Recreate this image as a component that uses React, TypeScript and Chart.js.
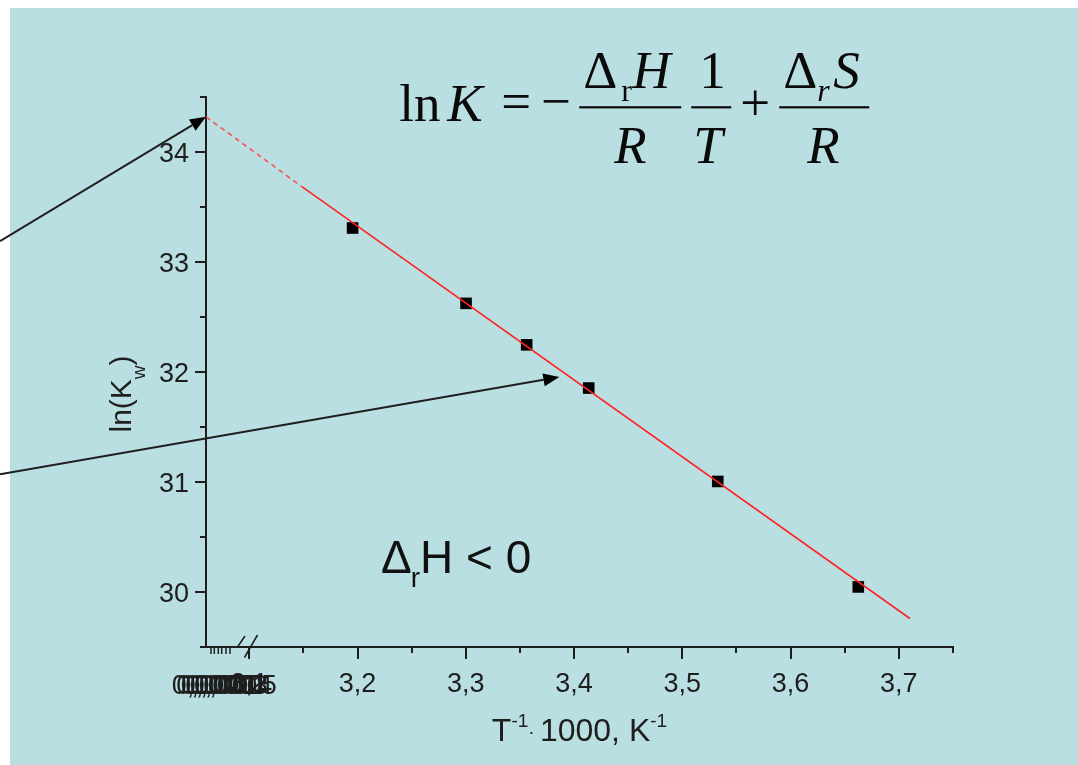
import { useEffect, useRef } from 'react';
import { Chart, registerables } from 'chart.js';
Chart.register(...registerables);

// ---- data ----
const invT = [3.1954, 3.3002, 3.3562, 3.4135, 3.5327, 3.6625]; // 1000/T, K^-1
const lnKw = [33.309, 32.624, 32.247, 31.854, 31.005, 30.046];
const fitX = [3.06, 3.1489, 3.7102];
const fitY = [34.32, 33.683, 29.759];
const xMajorTicks = [3.1, 3.2, 3.3, 3.4, 3.5, 3.6, 3.7];
const xTickLabels = ['3,1', '3,2', '3,3', '3,4', '3,5', '3,6', '3,7'];
const xMinorTicks = [3.15, 3.25, 3.35, 3.45, 3.55, 3.65, 3.75];
const yMajorTicks = [30, 31, 32, 33, 34];
const yMinorTicks = [29.5, 30.5, 31.5, 32.5, 33.5, 34.5];
const breakLabels = ['0,0000', '0,0001', '0,0002', '0,0003', '0,0004', '0,0005'];
const arrowTips = [[3.06, 34.32], [3.3864, 31.954]];
const arrowTailY = [33.19, 31.07];
const noteAnchor = [3.2216, 30.17];
const eqAnchor = [3.2385, 34.28];

const W = 1078;
const H = 765;
const INK = '#1e1e1e';
const SANS = '"Liberation Sans", Arial, sans-serif';
const SERIF = '"Liberation Serif", "Times New Roman", serif';

function drawArrow(ctx: CanvasRenderingContext2D, x1: number, y1: number, x2: number, y2: number) {
  const ang = Math.atan2(y2 - y1, x2 - x1);
  const len = 16;
  const half = 6.5;
  const bx = x2 - len * Math.cos(ang);
  const by = y2 - len * Math.sin(ang);
  ctx.strokeStyle = INK;
  ctx.lineWidth = 2;
  ctx.beginPath();
  ctx.moveTo(x1, y1);
  ctx.lineTo(bx, by);
  ctx.stroke();
  ctx.fillStyle = '#000';
  ctx.beginPath();
  ctx.moveTo(x2, y2);
  ctx.lineTo(bx + half * Math.sin(ang), by - half * Math.cos(ang));
  ctx.lineTo(bx - half * Math.sin(ang), by + half * Math.cos(ang));
  ctx.closePath();
  ctx.fill();
}

const decor = {
  id: 'decor',
  beforeDraw(chart: any) {
    const ctx = chart.ctx as CanvasRenderingContext2D;
    ctx.save();
    ctx.fillStyle = '#ffffff';
    ctx.fillRect(0, 0, W, H);
    ctx.fillStyle = '#badfe2';
    ctx.fillRect(10, 8, W - 10, H - 8);
    ctx.restore();
  },
  afterDraw(chart: any) {
    const ctx = chart.ctx as CanvasRenderingContext2D;
    const xs = chart.scales.x;
    const ys = chart.scales.y;
    const area = chart.chartArea;
    ctx.save();
    ctx.strokeStyle = INK;
    ctx.lineWidth = 2;
    // minor ticks
    xMinorTicks.forEach((v) => {
      const px = Math.round(xs.getPixelForValue(v));
      ctx.beginPath();
      ctx.moveTo(px, area.bottom);
      ctx.lineTo(px, area.bottom + 6);
      ctx.stroke();
    });
    yMinorTicks.forEach((v) => {
      const py = Math.round(ys.getPixelForValue(v));
      ctx.beginPath();
      ctx.moveTo(area.left, py);
      ctx.lineTo(area.left - 6, py);
      ctx.stroke();
    });
    // axis break region
    ctx.lineWidth = 1.5;
    const breakOffsets = [5, 8.3, 12.3, 15.7, 20, 24];
    breakOffsets.forEach((o) => {
      ctx.beginPath();
      ctx.moveTo(area.left + o, area.bottom);
      ctx.lineTo(area.left + o, area.bottom + 7);
      ctx.stroke();
    });
    ctx.beginPath();
    ctx.moveTo(area.left + 31.5, area.bottom);
    ctx.lineTo(area.left + 39, area.bottom - 11);
    ctx.moveTo(area.left + 38.5, area.bottom + 10.5);
    ctx.lineTo(area.left + 51.5, area.bottom - 12);
    ctx.stroke();
    ctx.fillStyle = INK;
    ctx.font = `27px ${SANS}`;
    ctx.textAlign = 'center';
    ctx.textBaseline = 'alphabetic';
    breakLabels.forEach((t, i) => {
      ctx.fillText(t, area.left + 7 + i * 4.5, area.bottom + 47);
    });

    // x title: T^-1 · 1000, K^-1
    const xt = [
      { t: 'T', s: 32, dy: 0 },
      { t: '-1', s: 19, dy: -14 },
      { t: '\u00B7 ', s: 19, dy: -3 },
      { t: '1000, K', s: 32, dy: 0 },
      { t: '-1', s: 19, dy: -14 },
    ];
    let total = 0;
    xt.forEach((p) => {
      ctx.font = `${p.s}px ${SANS}`;
      total += ctx.measureText(p.t).width;
    });
    let cx = (area.left + area.right) / 2 - total / 2;
    const xBase = 741;
    ctx.textAlign = 'left';
    ctx.textBaseline = 'alphabetic';
    xt.forEach((p) => {
      ctx.font = `${p.s}px ${SANS}`;
      ctx.fillText(p.t, cx, xBase + p.dy);
      cx += ctx.measureText(p.t).width;
    });

    // y title: ln(K_w)
    ctx.save();
    ctx.translate(131, 394);
    ctx.rotate(-Math.PI / 2);
    const yt = [
      { t: 'ln(K', s: 30, dy: 0 },
      { t: 'w', s: 19, dy: 14 },
      { t: ')', s: 30, dy: 0 },
    ];
    let ytot = 0;
    yt.forEach((p) => {
      ctx.font = `${p.s}px ${SANS}`;
      ytot += ctx.measureText(p.t).width;
    });
    let yx = -ytot / 2;
    yt.forEach((p) => {
      ctx.font = `${p.s}px ${SANS}`;
      ctx.fillText(p.t, yx, p.dy);
      yx += ctx.measureText(p.t).width;
    });
    ctx.restore();

    // annotation ΔrH < 0
    const nx = xs.getPixelForValue(noteAnchor[0]);
    const ny = ys.getPixelForValue(noteAnchor[1]);
    ctx.fillStyle = '#111';
    ctx.font = `46px ${SANS}`;
    ctx.fillText('\u0394', nx, ny);
    let nw = ctx.measureText('\u0394').width;
    ctx.font = `28px ${SANS}`;
    ctx.fillText('r', nx + nw - 1, ny + 14);
    nw += ctx.measureText('r').width - 1;
    ctx.font = `46px ${SANS}`;
    ctx.fillText('H < 0', nx + nw, ny);

    // equation
    const ex = xs.getPixelForValue(eqAnchor[0]);
    const ey = ys.getPixelForValue(eqAnchor[1]);
    const eq = [
      { t: 'ln', dx: 0, dy: 0, s: 53, it: false },
      { t: 'K', dx: 48, dy: 0, s: 53, it: true },
      { t: '=', dx: 102, dy: -2, s: 53, it: false },
      { t: '\u2212', dx: 142, dy: -2, s: 53, it: false },
      { t: '\u0394', dx: 184, dy: -33, s: 53, it: false },
      { t: 'r', dx: 222, dy: -20, s: 32, it: false },
      { t: 'H', dx: 233, dy: -33, s: 53, it: true },
      { t: 'R', dx: 215, dy: 42, s: 53, it: true },
      { t: '1', dx: 300, dy: -33, s: 53, it: false },
      { t: 'T', dx: 294, dy: 42, s: 53, it: true },
      { t: '+', dx: 341, dy: -1, s: 53, it: false },
      { t: '\u0394', dx: 384, dy: -33, s: 53, it: false },
      { t: 'r', dx: 418, dy: -20, s: 32, it: true },
      { t: 'S', dx: 434, dy: -33, s: 53, it: true },
      { t: 'R', dx: 408, dy: 42, s: 53, it: true },
    ];
    ctx.fillStyle = '#0a0a0a';
    eq.forEach((p) => {
      ctx.font = `${p.it ? 'italic ' : ''}${p.s}px ${SERIF}`;
      ctx.fillText(p.t, ex + p.dx, ey + p.dy);
    });
    ctx.fillRect(ex + 180, ey - 15, 102, 2.2);
    ctx.fillRect(ex + 292, ey - 15, 40, 2.2);
    ctx.fillRect(ex + 380, ey - 15, 90, 2.2);

    // arrows
    arrowTips.forEach((tip, i) => {
      const tx = xs.getPixelForValue(tip[0]);
      const ty = ys.getPixelForValue(tip[1]);
      drawArrow(ctx, 0, ys.getPixelForValue(arrowTailY[i]), tx, ty);
    });
    ctx.restore();
  },
};

export default function App() {
  const ref = useRef<HTMLCanvasElement>(null);
  useEffect(() => {
    if (!ref.current) return;
    const chart = new Chart(ref.current, {
      type: 'scatter',
      data: {
        datasets: [
          {
            label: 'fit',
            data: fitX.map((x, i) => ({ x, y: fitY[i] })),
            showLine: true,
            borderColor: '#ff2424',
            borderWidth: 1.6,
            pointRadius: 0,
            order: 0,
            segment: {
              borderDash: (c: any) => (c.p0DataIndex === 0 ? [5, 4] : undefined),
              borderColor: (c: any) => (c.p0DataIndex === 0 ? '#ff5050' : undefined),
            },
          } as any,
          {
            label: 'ln(Kw)',
            data: invT.map((x, i) => ({ x, y: lnKw[i] })),
            pointStyle: 'rect',
            pointRadius: 8.2,
            backgroundColor: '#000',
            borderColor: '#000',
            borderWidth: 0,
            order: 1,
          },
        ],
      },
      options: {
        animation: false,
        responsive: false,
        devicePixelRatio: 1,
        layout: { padding: { top: 97, right: 125, left: 0, bottom: 0 } },
        plugins: { legend: { display: false }, tooltip: { enabled: false } },
        scales: {
          x: {
            type: 'linear',
            min: 3.06,
            max: 3.75,
            afterBuildTicks: (s: any) => {
              s.ticks = xMajorTicks.map((v) => ({ value: v }));
            },
            afterFit: (s: any) => {
              s.height = 118;
            },
            ticks: {
              autoSkip: false,
              maxRotation: 0,
              padding: 9,
              color: INK,
              font: { size: 27, family: SANS },
              callback: (v: any) => {
                const i = xMajorTicks.findIndex((t) => Math.abs(t - Number(v)) < 1e-6);
                return i >= 0 ? xTickLabels[i] : '';
              },
            },
            grid: { drawOnChartArea: false, drawTicks: true, tickLength: 12, color: INK, lineWidth: 2 },
            border: { color: INK, width: 2 },
          },
          y: {
            type: 'linear',
            min: 29.5,
            max: 34.5,
            afterBuildTicks: (s: any) => {
              s.ticks = yMajorTicks.map((v) => ({ value: v }));
            },
            afterFit: (s: any) => {
              s.width = 206;
            },
            ticks: {
              padding: 6,
              labelOffset: 3,
              color: INK,
              font: { size: 27, family: SANS },
              callback: (v: any) => String(v),
            },
            grid: { drawOnChartArea: false, drawTicks: true, tickLength: 11, color: INK, lineWidth: 2 },
            border: { color: INK, width: 2 },
          },
        },
      },
      plugins: [decor],
    });
    return () => chart.destroy();
  }, []);
  return (
    <div style={{ position: 'fixed', left: 0, top: 0, width: W, height: H }}>
      <canvas ref={ref} width={W} height={H} style={{ width: W, height: H, display: 'block' }} />
    </div>
  );
}
